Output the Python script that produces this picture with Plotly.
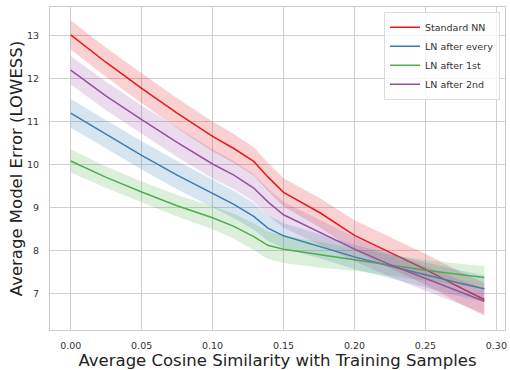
import plotly.graph_objects as go

# x positions (average cosine similarity)
xs = [0.0, 0.025, 0.05, 0.075, 0.10, 0.115, 0.129, 0.139, 0.15, 0.176, 0.20, 0.225, 0.25, 0.27, 0.2915]

series_names = ["Standard NN", "LN after every", "LN after 1st", "LN after 2nd"]

standard_nn = [13.02, 12.38, 11.78, 11.20, 10.66, 10.38, 10.08, 9.72, 9.36, 8.88, 8.36, 7.96, 7.57, 7.22, 6.87]
ln_every = [11.20, 10.70, 10.22, 9.76, 9.34, 9.08, 8.80, 8.53, 8.35, 8.10, 7.86, 7.65, 7.44, 7.28, 7.12]
ln_first = [10.09, 9.71, 9.37, 9.05, 8.77, 8.57, 8.33, 8.13, 8.04, 7.91, 7.80, 7.67, 7.55, 7.47, 7.38]
ln_second = [12.20, 11.60, 11.05, 10.52, 10.02, 9.76, 9.46, 9.14, 8.84, 8.42, 8.04, 7.68, 7.36, 7.10, 6.83]

# band half-widths (confidence interval)
ci_standard = [0.34, 0.34, 0.35, 0.35, 0.35, 0.34, 0.33, 0.33, 0.33, 0.34, 0.35, 0.36, 0.36, 0.37, 0.38]
ci_every = [0.33, 0.33, 0.33, 0.33, 0.33, 0.32, 0.31, 0.30, 0.29, 0.28, 0.28, 0.28, 0.29, 0.30, 0.31]
ci_first = [0.27, 0.25, 0.24, 0.25, 0.27, 0.29, 0.31, 0.32, 0.32, 0.30, 0.26, 0.24, 0.24, 0.25, 0.26]
ci_second = [0.33, 0.33, 0.33, 0.34, 0.34, 0.33, 0.32, 0.31, 0.30, 0.29, 0.28, 0.28, 0.28, 0.28, 0.29]

x_tick_vals = [0.0, 0.05, 0.10, 0.15, 0.20, 0.25, 0.30]
x_tick_text = ["0.00", "0.05", "0.10", "0.15", "0.20", "0.25", "0.30"]
y_tick_vals = [7, 8, 9, 10, 11, 12, 13]

colors = ["#e41a1c", "#377eb8", "#4daf4a", "#984ea3"]
fills = ["rgba(228,26,28,0.2)", "rgba(55,126,184,0.2)", "rgba(77,175,74,0.2)", "rgba(152,78,163,0.2)"]

values = [standard_nn, ln_every, ln_first, ln_second]
cis = [ci_standard, ci_every, ci_first, ci_second]

fig = go.Figure()
for name, ys, ci, c, f in zip(series_names, values, cis, colors, fills):
    upper = [y + e for y, e in zip(ys, ci)]
    lower = [y - e for y, e in zip(ys, ci)]
    fig.add_trace(go.Scatter(
        x=xs + xs[::-1], y=upper + lower[::-1],
        fill="toself", fillcolor=f, line=dict(width=0), mode="lines",
        hoverinfo="skip", showlegend=False))
    fig.add_trace(go.Scatter(
        x=xs, y=ys, mode="lines", name=name,
        line=dict(color=c, width=1.5)))

axis_common = dict(
    showgrid=True, gridcolor="#d0d0d0", gridwidth=1,
    showline=True, linecolor="#cccccc", linewidth=1.2, mirror=True,
    zeroline=False, ticks="",
    tickfont=dict(family="DejaVu Sans", size=9.5, color="#333333"),
)

fig.update_layout(
    width=510, height=370,
    margin=dict(l=50, r=5, t=7, b=40, autoexpand=False),
    paper_bgcolor="white", plot_bgcolor="white",
    font=dict(family="DejaVu Sans", color="#222222"),
    xaxis=dict(
        range=[-0.0146, 0.3061], tickvals=x_tick_vals, ticktext=x_tick_text,
        title=dict(text="Average Cosine Similarity with Training Samples",
                   font=dict(family="DejaVu Sans", size=16.5, color="#222222"), standoff=6),
        ticklabelstandoff=6, ticklabeloverflow="allow",
        **axis_common),
    yaxis=dict(
        range=[6.16, 13.67], tickvals=y_tick_vals,
        title=dict(text="Average Model Error (LOWESS)",
                   font=dict(family="DejaVu Sans", size=16.5, color="#222222"), standoff=0),
        ticklabelstandoff=8,
        **axis_common),
    legend=dict(
        x=0.989, y=0.985, xanchor="right", yanchor="top",
        bgcolor="rgba(255,255,255,0.8)", bordercolor="#dddddd", borderwidth=1,
        font=dict(family="DejaVu Sans", size=9.5, color="#333333"),
        itemwidth=30, tracegroupgap=0,
    ),
    showlegend=True,
)

fig.write_html(
    "out.html",
    config={"displayModeBar": False},
    post_script="document.body.style.margin='0';document.body.style.overflow='hidden';",
)
